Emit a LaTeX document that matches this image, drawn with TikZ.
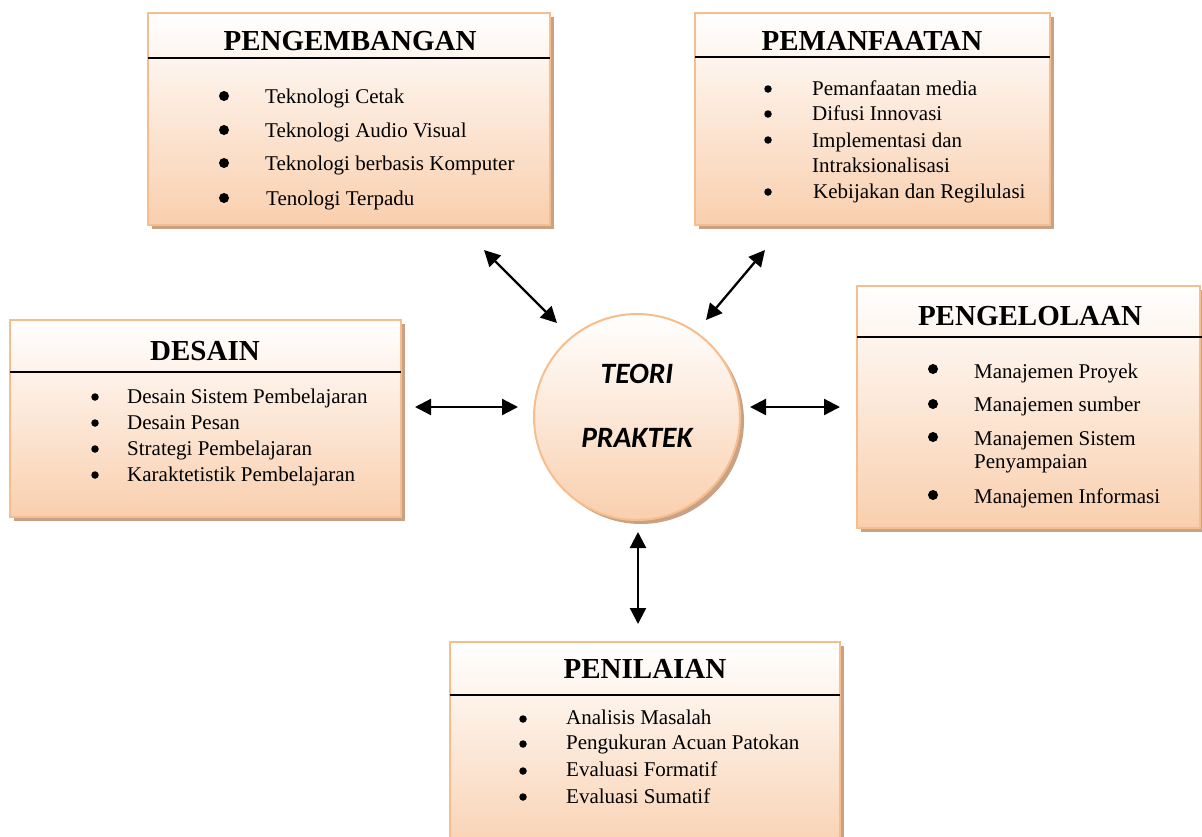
\documentclass[tikz,border=0pt]{standalone}
\usepackage{fontspec}
\setmainfont{Liberation Serif}
\newfontfamily\carl{Carlito}
\usetikzlibrary{arrows.meta,shadows}
\definecolor{boxborder}{HTML}{F7BD8C}
\definecolor{boxfill}{HTML}{F9CFAE}
\definecolor{shadowc}{HTML}{C9A285}
\tikzset{
  panel/.style={draw=boxborder, line width=2pt, top color=white, bottom color=boxfill,
    general shadow={fill=shadowc, shadow xshift=4pt, shadow yshift=-4pt}, inner sep=0pt},
  ttl/.style={font=\fontsize{29}{32}\selectfont\bfseries, anchor=base, inner sep=0pt},
  itm/.style={font=\fontsize{21}{24}\selectfont, anchor=base west, inner sep=0pt},
  bul/.style={circle, fill=black, inner sep=0pt, minimum size=#1},
  bul/.default=7pt,
  hline/.style={line width=1.2pt, black},
  ctext/.style={font=\carl\fontsize{29.5}{32}\selectfont\bfseries\itshape, anchor=base, inner sep=0pt},
  link/.style={<->, >={Stealth[length=16pt,width=16pt,inset=0pt]}, line width=2.3pt},
}
\begin{document}
\begin{tikzpicture}[x=1pt,y=-1pt]
\useasboundingbox (0,0) rectangle (1202,836);
% PENGEMBANGAN
\node[panel, minimum width=402pt, minimum height=212pt] (dev) at (349,119) {};
\node[ttl] (devt) at (350,50) {PENGEMBANGAN};
\draw[hline] (148,58) -- (550,58);
\node[bul=10pt] (db1) at (224,96) {}; \node[itm] (di1) at (265,103) {Teknologi Cetak};
\node[bul=10pt] (db2) at (224,130) {}; \node[itm] (di2) at (265,137) {Teknologi Audio Visual};
\node[bul=10pt] (db3) at (224,163) {}; \node[itm] (di3) at (265,170) {Teknologi berbasis Komputer};
\node[bul=10pt] (db4) at (224,198) {}; \node[itm] (di4) at (266,205) {Tenologi Terpadu};
% PEMANFAATAN
\node[panel, minimum width=355pt, minimum height=212pt] (use) at (872.5,119) {};
\node[ttl] (uset) at (872,50) {PEMANFAATAN};
\draw[hline] (695,57) -- (1050,57);
\node[bul=7.5pt] (ub1) at (768,89) {}; \node[itm] (ui1) at (812,95) {Pemanfaatan media};
\node[bul=7.5pt] (ub2) at (768,114) {}; \node[itm] (ui2) at (812,120) {Difusi Innovasi};
\node[bul=7.5pt] (ub3) at (768,140) {}; \node[itm] (ui3) at (812,147) {Implementasi dan};
\node[itm] (ui3b) at (812,172) {Intraksionalisasi};
\node[bul=7.5pt] (ub4) at (768,192) {}; \node[itm] (ui4) at (813,198) {Kebijakan dan Regilulasi};
% DESAIN
\node[panel, minimum width=391pt, minimum height=197pt] (des) at (205.5,418.5) {};
\node[ttl] (dest) at (205,360) {DESAIN};
\draw[hline] (10,372) -- (401,372);
\node[bul=7.5pt] (sb1) at (95,397) {}; \node[itm] (si1) at (127,403) {Desain Sistem Pembelajaran};
\node[bul=7.5pt] (sb2) at (95,423) {}; \node[itm] (si2) at (127,429) {Desain Pesan};
\node[bul=7.5pt] (sb3) at (95,449) {}; \node[itm] (si3) at (127,455) {Strategi Pembelajaran};
\node[bul=7.5pt] (sb4) at (95,475) {}; \node[itm] (si4) at (127,481) {Karaktetistik Pembelajaran};
% PENGELOLAAN
\node[panel, minimum width=343pt, minimum height=242pt] (man) at (1028.5,407) {};
\node[ttl] (mant) at (1030,325) {PENGELOLAAN};
\draw[hline] (857,337) -- (1202,337);
\node[bul=10pt] (mb1) at (933,369) {}; \node[itm] (mi1) at (974,378) {Manajemen Proyek};
\node[bul=10pt] (mb2) at (933,404) {}; \node[itm] (mi2) at (974,411) {Manajemen sumber};
\node[bul=10pt] (mb3) at (933,437) {}; \node[itm] (mi3) at (974,445) {Manajemen Sistem};
\node[itm] (mi3b) at (974,468) {Penyampaian};
\node[bul=10pt] (mb4) at (933,495) {}; \node[itm] (mi4) at (974,503) {Manajemen Informasi};
% PENILAIAN
\node[panel, minimum width=390pt, minimum height=220pt] (eva) at (645,752) {};
\node[ttl] (evat) at (645,678) {PENILAIAN};
\draw[hline] (450,695) -- (840,695);
\node[bul=7.5pt] (eb1) at (523,719) {}; \node[itm] (ei1) at (566,724) {Analisis Masalah};
\node[bul=7.5pt] (eb2) at (523,744) {}; \node[itm] (ei2) at (566,749) {Pengukuran Acuan Patokan};
\node[bul=7.5pt] (eb3) at (523,771) {}; \node[itm] (ei3) at (566,776) {Evaluasi Formatif};
\node[bul=7.5pt] (eb4) at (523,797) {}; \node[itm] (ei4) at (566,803) {Evaluasi Sumatif};
% centre
\node[panel, circle, minimum size=206pt] (core) at (637,417) {};
\node[ctext] (c1) at (637,383) {TEORI};
\node[ctext] (c2) at (637,447) {PRAKTEK};
% connectors
\coordinate (a1) at (484,250); \coordinate (a2) at (557,323);
\coordinate (b1) at (765,250); \coordinate (b2) at (706,320);
\coordinate (c1a) at (415,407); \coordinate (c2a) at (518,407);
\coordinate (d1) at (750,407); \coordinate (d2) at (840,407);
\coordinate (e1) at (638,532); \coordinate (e2) at (638,624);
\draw[link] (a1) -- (a2);
\draw[link] (b1) -- (b2);
\draw[link] (c1a) -- (c2a);
\draw[link] (d1) -- (d2);
\draw[link] (e1) -- (e2);
\end{tikzpicture}
\end{document}
